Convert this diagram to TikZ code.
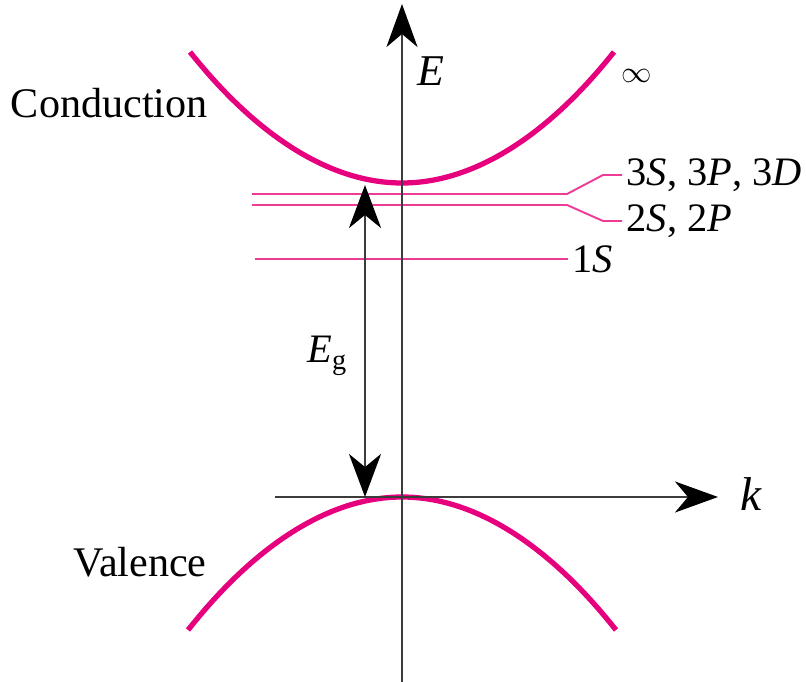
\documentclass[tikz,border=0pt]{standalone}
\usepackage{fontspec}
\setmainfont{Liberation Serif}
\usetikzlibrary{arrows.meta, calc}
\definecolor{bandmagenta}{RGB}{230, 0, 126}
\definecolor{levelpink}{RGB}{236, 60, 150}
\definecolor{axisgray}{RGB}{60, 60, 60}
\tikzstyle{band} = [line width=3pt, bandmagenta]
\tikzstyle{level} = [line width=1.1pt, levelpink]
\tikzstyle{axis} = [line width=1.7pt, axisgray,
                    -{Stealth[length=8.6mm, width=6.2mm, inset=2.6mm, color=black]}]
\tikzstyle{gaparrow} = [line width=1.6pt, axisgray,
                        {Stealth[length=8.6mm, width=6.4mm, inset=2.6mm, color=black]}-{Stealth[length=8.6mm, width=6.4mm, inset=2.6mm, color=black]}]
\tikzstyle{bandlabel} = [inner sep=0pt, font=\fontsize{24}{28}\selectfont]
\tikzstyle{levellabel} = [inner sep=2.5pt, anchor=west, font=\fontsize{23}{27}\selectfont]
\tikzstyle{axislabel} = [inner sep=0pt, font=\fontsize{25}{29}\selectfont]

\begin{document}
\begin{tikzpicture}[x=0.02cm, y=-0.02cm]
\useasboundingbox (0,0) rectangle (806,682);

% Bands
\draw[band] (190,52) parabola bend (402,183) (614,52);
\draw[band] (188,630) parabola bend (402,497) (616,630);

% Band names
\node[bandlabel, anchor=base east] (cond) at (208,118) {Conduction};
\node[bandlabel, anchor=base east] (val) at (207,577) {Valence};
\node[axislabel, font=\fontsize{17}{20}\selectfont] (inf) at (637,76) {$\infty$};

% Exciton levels
\coordinate (n3a) at (252,194);
\coordinate (n3b) at (567,194);
\coordinate (n3c) at (603,175);
\coordinate (n2a) at (252,205);
\coordinate (n2b) at (567,205);
\coordinate (n2c) at (603,221);
\coordinate (n1a) at (255,259);

\node[levellabel] (l3) at (622,175) {3\textit{S}, 3\textit{P}, 3\textit{D}};
\node[levellabel] (l2) at (622,221) {2\textit{S}, 2\textit{P}};
\node[levellabel] (l1) at (568,259) {1\textit{S}};

\draw[level] (n3a) -- (n3b) -- (n3c) -- (l3);
\draw[level] (n2a) -- (n2b) -- (n2c) -- (l2);
\draw[level] (n1a) -- (l1);

% Axes
\coordinate (Ebot) at (402,682);
\coordinate (Etop) at (402,4);
\coordinate (kstart) at (275,497);
\coordinate (kend) at (718,497);
\draw[axis] (Ebot) -- (Etop);
\draw[axis] (kstart) -- (kend);

\node[axislabel] (E) at (431,71) {\textit{E}};
\node[axislabel, font=\fontsize{27}{31}\selectfont] (k) at (751,494) {\textit{k}};

% Gap
\coordinate (gtop) at (365,185);
\coordinate (gbot) at (365,497);
\draw[gaparrow] (gbot) -- (gtop);
\node[axislabel, anchor=base west, font=\fontsize{23}{27}\selectfont] (Eg) at (307,363) {\textit{E}\textsubscript{g}};

\end{tikzpicture}
\end{document}
